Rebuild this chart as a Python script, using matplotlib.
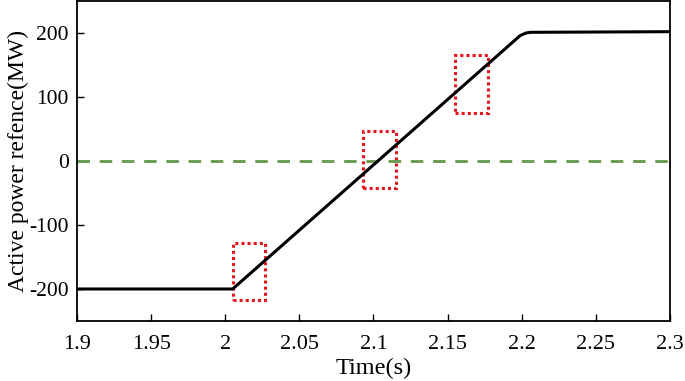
import matplotlib
matplotlib.use("Agg")
import matplotlib.pyplot as plt
from matplotlib.patches import Rectangle

plt.rcParams['font.family'] = ['Liberation Serif', 'DejaVu Serif']
plt.rcParams['axes.unicode_minus'] = False

time = [1.9, 2.005, 2.199, 2.203, 2.206, 2.3]
power = [-200, -200, 196, 200, 201, 202]
ref_time = [1.9, 2.3]
ref_power = [0, 0]
# boxes: (t0, t1, p0, p1)
box_t0 = [2.005, 2.093, 2.155]
box_t1 = [2.027, 2.115, 2.177]
box_p0 = [-217, -42, 75]
box_p1 = [-128, 47, 166]
xticks = [1.9, 1.95, 2, 2.05, 2.1, 2.15, 2.2, 2.25, 2.3]
xticklabels = ['1.9', '1.95', '2', '2.05', '2.1', '2.15', '2.2', '2.25', '2.3']
yticks = [-200, -100, 0, 100, 200]

fig = plt.figure(figsize=(6.85, 3.81), dpi=100)
ax = fig.add_axes([0.1124, 0.1575, 0.8656, 0.84])
ax.plot(ref_time, ref_power, color='#64984a', lw=2, ls=(0, (4.5, 3.5)))
ax.plot(time, power, color='black', lw=2.2)
for t0, t1, p0, p1 in zip(box_t0, box_t1, box_p0, box_p1):
    ax.add_patch(Rectangle((t0, p0), t1 - t0, p1 - p0, fill=False,
                           edgecolor='#e8141c', lw=2.2, ls=(0, (1, 1))))
ax.set_xlim(1.9, 2.3)
ax.set_ylim(-250, 250)
ax.set_xticks(xticks)
ax.set_xticklabels(xticklabels)
ax.set_yticks(yticks)
ax.tick_params(direction='in', length=5, width=1)
ax.tick_params(axis='x', pad=10, labelsize=16)
ax.tick_params(axis='y', pad=6, labelsize=15.5)
for s in ax.spines.values():
    s.set_linewidth(1.3)
ax.set_xlabel('Time(s)', fontsize=17.5, labelpad=3)
ax.set_ylabel('Active power refence(MW)', fontsize=17, labelpad=0)
fig.savefig('out.png', dpi=100)
